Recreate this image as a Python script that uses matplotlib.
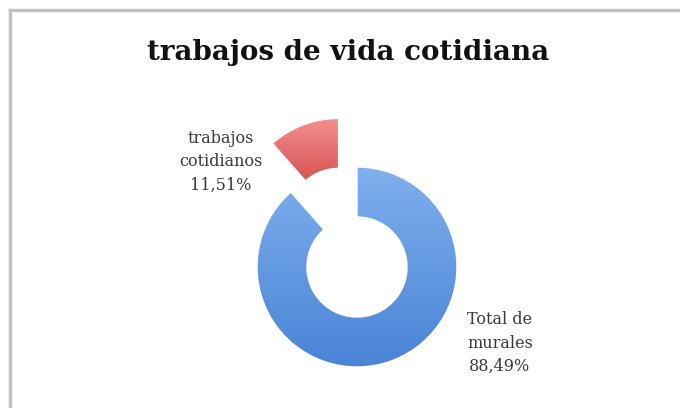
import matplotlib
matplotlib.use("Agg")
import matplotlib.pyplot as plt
import numpy as np
from matplotlib.colors import LinearSegmentedColormap
from matplotlib.lines import Line2D

# Data
categories = ["Total de\nmurales", "trabajos\ncotidianos"]
values = [88.49, 11.51]
title = "trabajos de vida cotidiana"

W, H = 680, 408
fig = plt.figure(figsize=(W / 100, H / 100), dpi=100)
ax = fig.add_axes([0, 0, 1, 1])

cx, cy, r = 357, H - 267, 100
wedges, _ = ax.pie(values, startangle=90, counterclock=False, radius=r,
                   center=(cx, cy), explode=[0, 0.52 * r],
                   wedgeprops=dict(width=0.5 * r, edgecolor="white", linewidth=1))
ax.set_xlim(0, W)
ax.set_ylim(0, H)
ax.set_aspect("equal")
ax.axis("off")

# vertical gradient fill for each ring segment
grads = [("#7fb0ee", "#4a84d6"), ("#f39090", "#d85252")]
for w, (c_top, c_bot) in zip(wedges, grads):
    w.set_facecolor("none")
    bb = w.get_path().get_extents()
    cmap = LinearSegmentedColormap.from_list("g", [c_bot, c_top])
    grad = np.linspace(0, 1, 256).reshape(-1, 1)
    im = ax.imshow(grad, cmap=cmap, origin="lower", aspect="auto",
                   extent=[bb.x0, bb.x1, bb.y0, bb.y1], zorder=1)
    im.set_clip_path(w)
    w.set_zorder(2)
ax.set_xlim(0, W)
ax.set_ylim(0, H)

# labels
label_pos = [(500, H - 343), (221, H - 162)]
for cat, v, (lx, ly) in zip(categories, values, label_pos):
    txt = f"{cat}\n{v:.2f}".replace(".", ",") + "%"
    ax.text(lx, ly, txt, ha="center", va="center", fontsize=11.5,
            family="DejaVu Serif", color="#3a3a3a", linespacing=1.5)

ax.text(348, H - 52, title, ha="center", va="center", fontsize=20,
        family="DejaVu Serif", fontweight="bold", color="#111111")

# chart frame
frame = "#c2c2c2"
fig.add_artist(Line2D([9.5 / W, 1.0], [1 - 9.5 / H, 1 - 9.5 / H],
                      transform=fig.transFigure, color=frame, lw=2.4))
fig.add_artist(Line2D([9.5 / W, 9.5 / W], [0, 1 - 9.5 / H],
                      transform=fig.transFigure, color=frame, lw=2.4))

fig.savefig("out.png", dpi=100, facecolor="white")
